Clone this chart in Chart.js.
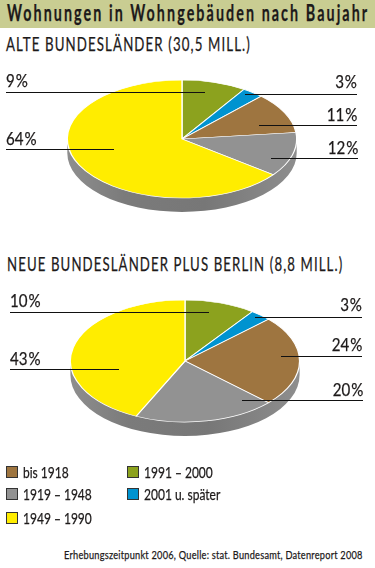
<!DOCTYPE html>
<html lang="de">
<head>
<meta charset="utf-8">
<title>Wohnungen in Wohngebäuden nach Baujahr</title>
<script src="https://cdn.jsdelivr.net/npm/chart.js@4"></script>
<style>
  html, body { margin: 0; padding: 0; background: #fff; }
  #page { position: relative; width: 375px; height: 568px; overflow: hidden; background: #fff;
          font-family: Lato, sans-serif; color: #1d1a1a; -webkit-text-stroke: 0.25px #1d1a1a; }
  #page > * { position: absolute; }
  #band { left: 0; top: 0; width: 375px; height: 28px; background: #c9cd92; }
  #title { left: 7px; top: 0; font-size: 22px; line-height: 25px; font-weight: bold; letter-spacing: 3.2px; white-space: nowrap; transform-origin: 0 0; }
  .sub { font-size: 19px; line-height: 22px; letter-spacing: 1.6px; white-space: nowrap; transform-origin: 0 0; }
  canvas { display: block; }
  .rule { height: 1px; background: #111; }
  .pct { font-size: 18px; line-height: 20px; white-space: nowrap; }
  .swatch { width: 10px; height: 10px; border: 1px solid #333; }
  .key { font-size: 15px; line-height: 16px; white-space: nowrap; transform-origin: 0 0; transform: scaleX(0.8); }
  #source { left: 64px; top: 548px; font-size: 12px; line-height: 14px; letter-spacing: 0.3px; white-space: nowrap; transform-origin: 0 0; }
</style>
</head>
<body>
<div id="page">
  <div id="band"></div>
  <div id="title">Wohnungen in Wohngebäuden nach Baujahr</div>
  <div class="sub" id="subA" style="left:6px;top:33px">ALTE BUNDESLÄNDER (30,5 MILL.)</div>
  <div class="sub" id="subB" style="left:7px;top:253px">NEUE BUNDESLÄNDER PLUS BERLIN (8,8 MILL.)</div>
  <div id="source">Erhebungszeitpunkt 2006, Quelle: stat. Bundesamt, Datenreport 2008</div>
</div>
<script>
// slices run clockwise from twelve o'clock
const categories = ['1991 – 2000', '2001 u. später', 'bis 1918', '1919 – 1948', '1949 – 1990'];
const alteLaender = [9, 3, 11, 12, 64];
const neueLaender = [10, 3, 24, 20, 43];
const sliceColors = ['#8ca21e', '#0093d0', '#9e7540', '#929292', '#ffed00'];
const legendOrder = [2, 3, 4, 0, 1];

const page = document.getElementById('page');

// the print font is narrower than anything installed, squeeze text to its measured width
function fitWidth(id, target) {
    const el = document.getElementById(id);
    el.style.transform = 'scaleX(' + (target / el.offsetWidth) + ')';
}
fitWidth('title', 362);
fitWidth('subA', 245);
fitWidth('subB', 336);
fitWidth('source', 299);

// Chart.js only draws round pies, so squash the context and paint the rim first
const tiltPlugin = {
    id: 'tilt',
    beforeDatasetsDraw(chart, args, opts) {
        const ctx = chart.ctx;
        const cx = chart.width / 2;
        const cy = chart.height / 2;
        const r = chart.getDatasetMeta(0).controller.outerRadius;
        const drop = opts.depth / opts.squash;
        ctx.save();
        ctx.translate(cx, cy);
        ctx.scale(1, opts.squash);
        ctx.translate(-cx, -cy);
        const shade = ctx.createLinearGradient(cx - r, 0, cx + r, 0);
        shade.addColorStop(0, '#8e8e8e');
        shade.addColorStop(0.25, '#7b7b7b');
        shade.addColorStop(0.6, '#777777');
        shade.addColorStop(1, '#8e8e8e');
        ctx.fillStyle = shade;
        ctx.beginPath();
        ctx.arc(cx, cy + drop, r, 0, Math.PI * 2);
        ctx.rect(cx - r, cy, r * 2, drop);
        ctx.fill();
    },
    afterDatasetsDraw(chart) {
        chart.ctx.restore();
    }
};

function addPie(values, cx, cy, rx, ry) {
    const size = Math.ceil(rx * 2 + 4);
    const canvas = document.createElement('canvas');
    canvas.style.left = (cx - size / 2) + 'px';
    canvas.style.top = (cy - size / 2) + 'px';
    canvas.style.width = size + 'px';
    canvas.style.height = size + 'px';
    canvas.width = size;
    canvas.height = size;
    page.appendChild(canvas);

    new Chart(canvas.getContext('2d'), {
        type: 'pie',
        data: {
            labels: categories,
            datasets: [{
                data: values,
                backgroundColor: sliceColors,
                borderColor: '#ffffff',
                borderWidth: 1.3
            }]
        },
        options: {
            responsive: false,
            maintainAspectRatio: false,
            animation: false,
            radius: rx,
            plugins: {
                legend: { display: false },
                tooltip: { enabled: false },
                tilt: { squash: ry / rx, depth: 14 }
            }
        },
        plugins: [tiltPlugin]
    });
}

function addRule(x1, x2, y) {
    const el = document.createElement('div');
    el.className = 'rule';
    el.style.left = x1 + 'px';
    el.style.top = y + 'px';
    el.style.width = (x2 - x1) + 'px';
    page.appendChild(el);
}

function addPct(value, y, x, side) {
    const el = document.createElement('div');
    el.className = 'pct';
    el.textContent = value + '\u200a%';
    el.style.top = y + 'px';
    el.style[side] = x + 'px';
    el.style.transformOrigin = side + ' top';
    el.style.transform = 'scaleX(0.84)';
    page.appendChild(el);
}

addPie(alteLaender, 181.5, 138.5, 114.7, 59);
addPie(neueLaender, 185.3, 361, 114.6, 61);

// leader lines in slice order: x start, x end, line y, label top
const alteLeaders = [[6, 205, 92, 70, 'left', 6], [245, 357, 94, 71, 'right', 18], [259, 357, 125, 104, 'right', 18], [271, 358, 158, 137, 'right', 17], [6, 114, 149, 128, 'left', 6]];
const neueLeaders = [[10, 209, 312, 290, 'left', 10], [255, 362, 317, 294, 'right', 13], [281, 362, 356, 334, 'right', 13], [242, 363, 400, 379, 'right', 12], [10, 119, 369, 348, 'left', 10]];

alteLaender.forEach((v, i) => {
    const l = alteLeaders[i];
    addRule(l[0], l[1], l[2]);
    addPct(v, l[3], l[5], l[4]);
});
neueLaender.forEach((v, i) => {
    const l = neueLeaders[i];
    addRule(l[0], l[1], l[2]);
    addPct(v, l[3], l[5], l[4]);
});

// legend, two columns
const legendSpots = [[6, 466], [6, 488], [6, 512], [127, 466], [127, 488]];
legendOrder.forEach((idx, i) => {
    const sw = document.createElement('div');
    sw.className = 'swatch';
    sw.style.left = legendSpots[i][0] + 'px';
    sw.style.top = legendSpots[i][1] + 'px';
    sw.style.background = sliceColors[idx];
    page.appendChild(sw);
    const key = document.createElement('div');
    key.className = 'key';
    key.textContent = categories[idx];
    key.style.left = (legendSpots[i][0] + 17) + 'px';
    key.style.top = (legendSpots[i][1] - 2) + 'px';
    page.appendChild(key);
});
</script>
</body>
</html>
